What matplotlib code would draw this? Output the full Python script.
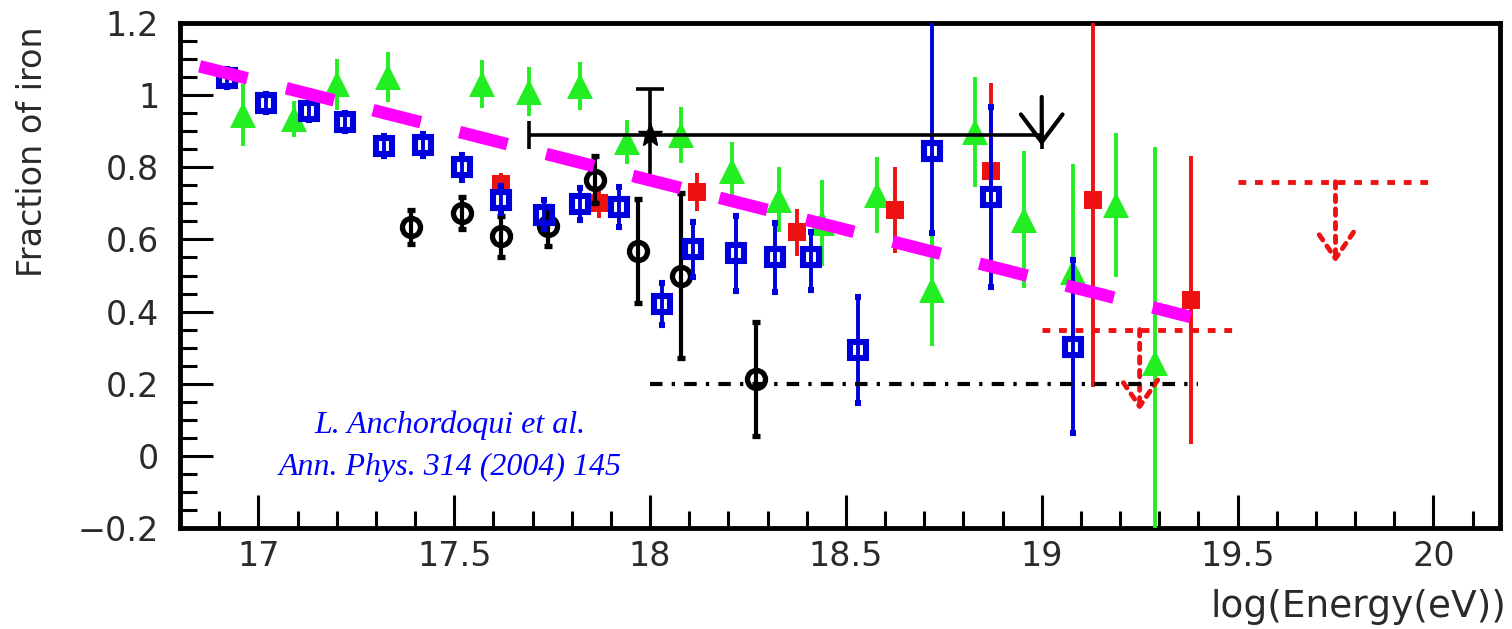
import matplotlib
matplotlib.use("Agg")
import matplotlib.pyplot as plt
from matplotlib.ticker import MultipleLocator, FuncFormatter

# ---- values ----
# blue open squares
blue_x = [16.92, 17.02, 17.13, 17.22, 17.32, 17.42, 17.52, 17.62, 17.73, 17.82,
          17.92, 18.03, 18.11, 18.22, 18.32, 18.41, 18.53, 18.72, 18.87, 19.08]
blue_y = [1.047, 0.978, 0.955, 0.925, 0.860, 0.862, 0.800, 0.710, 0.668, 0.698,
          0.690, 0.420, 0.573, 0.562, 0.550, 0.551, 0.293, 0.845, 0.718, 0.302]
blue_lo = [0.025, 0.025, 0.025, 0.025, 0.028, 0.03, 0.035, 0.037, 0.04, 0.044,
           0.055, 0.058, 0.076, 0.104, 0.095, 0.09, 0.147, 0.227, 0.25, 0.24]
blue_hi = [0.025, 0.025, 0.025, 0.025, 0.028, 0.03, 0.035, 0.037, 0.04, 0.044,
           0.055, 0.058, 0.076, 0.104, 0.095, 0.07, 0.147, 0.40, 0.25, 0.24]

# green filled triangles
green_x = [16.96, 17.09, 17.20, 17.33, 17.57, 17.69, 17.82, 17.94, 18.08, 18.21,
           18.33, 18.44, 18.58, 18.72, 18.83, 18.955, 19.08, 19.19, 19.29]
green_y = [0.945, 0.935, 1.030, 1.050, 1.030, 1.010, 1.025, 0.870, 0.890, 0.790,
           0.710, 0.645, 0.723, 0.460, 0.898, 0.654, 0.510, 0.695, 0.257]
green_err = [0.085, 0.05, 0.07, 0.07, 0.067, 0.067, 0.067, 0.06, 0.077, 0.08,
             0.09, 0.12, 0.105, 0.155, 0.152, 0.19, 0.30, 0.20, 0.60]

# red filled squares
red_x = [17.62, 17.87, 18.12, 18.375, 18.625, 18.87, 19.13, 19.38]
red_y = [0.755, 0.700, 0.732, 0.620, 0.682, 0.790, 0.710, 0.432]
red_err = [0.03, 0.04, 0.052, 0.065, 0.12, 0.245, 0.52, 0.40]

# black open circles
black_x = [17.39, 17.52, 17.62, 17.74, 17.86, 17.97, 18.08, 18.27]
black_y = [0.634, 0.673, 0.609, 0.637, 0.765, 0.568, 0.500, 0.213]
black_err = [0.047, 0.045, 0.057, 0.055, 0.065, 0.145, 0.23, 0.157]

# black star with wide energy bin, upper end marked with an arrow
star_x, star_y = 18.0, 0.889
star_xerr = [0.31, 1.0]
star_yerr = [0.125, 0.128]
star_arrow_top = 0.995
star_arrow_tip = 0.86

# red dotted upper limits (bin edges, limit value)
ul_lo = [19.0, 19.5]
ul_hi = [19.5, 20.0]
ul_val = [0.35, 0.76]
ul_arrow_len = 0.225

# black dash-dot level
level_x = [18.0, 19.4]
level_y = [0.2, 0.2]

# magenta trend line
trend_x = [16.85, 19.38]
trend_y = [1.080, 0.385]

x_limits = (16.8, 20.17)
y_ticks = [-0.2, 0.0, 0.2, 0.4, 0.6, 0.8, 1.0, 1.2]

BLUE = "#0000dd"
GREEN = "#22ee22"
RED = "#ee1111"
MAGENTA = "#ff00ff"
TEXT = "#2a2a2a"

fig = plt.figure(figsize=(15.12, 6.29), dpi=100)
ax = fig.add_axes([180 / 1512, 1 - 528 / 629, 1320 / 1512, 505 / 629])

# green triangles
ax.errorbar(green_x, green_y, yerr=green_err, fmt="^", color=GREEN, ms=19,
            mec=GREEN, mew=0, elinewidth=2.8, capsize=2, capthick=2.5, zorder=3)
# red squares
ax.errorbar(red_x, red_y, yerr=red_err, fmt="s", color=RED, ms=13,
            mec=RED, mew=0, elinewidth=2.8, capsize=2, capthick=2.5, zorder=3.5)
# black circles
ax.errorbar(black_x, black_y, yerr=black_err, fmt="o", color="k", ms=13,
            mfc="none", mec="k", mew=3.8, elinewidth=3, capsize=3, capthick=3, zorder=4)
# blue squares
ax.errorbar(blue_x, blue_y, yerr=[blue_lo, blue_hi], fmt="s", color=BLUE, ms=12,
            mfc="none", mec=BLUE, mew=4.4, elinewidth=2.8, capsize=2, capthick=2.5, zorder=5)

# star point
ax.errorbar([star_x], [star_y], xerr=[[star_xerr[0]], [star_xerr[1]]],
            yerr=[[star_yerr[0]], [star_yerr[1]]], fmt="*", color="k", ms=18,
            elinewidth=2.6, capsize=10, capthick=2.6, zorder=7)
ax.annotate("", xy=(star_x + star_xerr[1], star_arrow_tip),
            xytext=(star_x + star_xerr[1], star_arrow_top),
            arrowprops=dict(arrowstyle="->,head_length=1.0,head_width=0.75",
                            lw=3, color="k", mutation_scale=20, shrinkA=0, shrinkB=0),
            zorder=7)

# upper limits
for x0, x1, yl in zip(ul_lo, ul_hi, ul_val):
    ax.plot([x0, x1], [yl, yl], color=RED, lw=3.5, dashes=(1.6, 1.8), zorder=6)
    xc = (x0 + x1) / 2
    ax.annotate("", xy=(xc, yl - ul_arrow_len), xytext=(xc, yl),
                arrowprops=dict(arrowstyle="->,head_length=0.95,head_width=0.65",
                                lw=3.5, color=RED, linestyle=(0, (1.3, 1.5)),
                                mutation_scale=20, shrinkA=0, shrinkB=0),
                zorder=6)

# dash-dot level
ax.plot(level_x, level_y, color="k", lw=3, dashes=(3, 2.2, 0.8, 2.2), zorder=6)

# magenta dashed trend
ax.plot(trend_x, trend_y, color=MAGENTA, lw=9, dashes=(3.95, 3.2),
        dash_capstyle="butt", zorder=10)

# reference text
ax.text(17.49, 0.086, "L. Anchordoqui et al.", ha="center", va="center",
        fontsize=23, family="Liberation Serif", fontstyle="italic", color="#0000ff")
ax.text(17.49, -0.031, "Ann. Phys. 314 (2004) 145", ha="center", va="center",
        fontsize=23, family="Liberation Serif", fontstyle="italic", color="#0000ff")

# axes styling
ax.set_xlim(*x_limits)
ax.set_ylim(y_ticks[0], y_ticks[-1])
ax.xaxis.set_major_locator(MultipleLocator(0.5))
ax.xaxis.set_minor_locator(MultipleLocator(0.1))
ax.set_yticks(y_ticks)
ax.yaxis.set_minor_locator(MultipleLocator(0.05))
fmt = FuncFormatter(lambda v, p: ("%g" % round(v, 3)).replace("-", "\u2212"))
ax.xaxis.set_major_formatter(fmt)
ax.yaxis.set_major_formatter(fmt)
ax.tick_params(which="both", direction="in", top=False, right=False,
               width=2.2, color="k")
ax.tick_params(which="major", length=24, labelsize=24, labelcolor=TEXT)
ax.tick_params(which="minor", length=12.5)
ax.tick_params(axis="x", which="major", pad=9)
ax.tick_params(axis="y", which="major", pad=15)
for s in ax.spines.values():
    s.set_linewidth(3.5)

fig.text(33 / 1512, 1 - 152 / 629, "Fraction of iron", rotation=90,
         ha="center", va="center", fontsize=24, color=TEXT)
fig.text(1506 / 1512, 1 - 607 / 629, "log(Energy(eV))", ha="right",
         va="center", fontsize=27, color=TEXT)

fig.savefig("out.png", dpi=100)
